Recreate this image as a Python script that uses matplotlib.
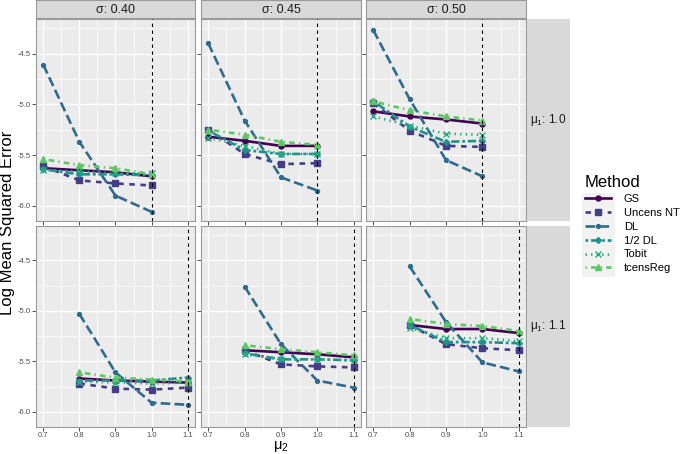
import numpy as np
import matplotlib
matplotlib.use("Agg")
import matplotlib.pyplot as plt
from matplotlib.lines import Line2D
from matplotlib.patches import Rectangle

plt.rcParams['font.family'] = ['Liberation Sans', 'DejaVu Sans']
plt.rcParams['mathtext.fontset'] = 'custom'
plt.rcParams['mathtext.rm'] = 'Liberation Sans'
plt.rcParams['lines.scale_dashes'] = False
plt.rcParams['axes.unicode_minus'] = False

# facets
sigmas = ['0.40', '0.45', '0.50']
mu1s = ['1.0', '1.1']
mu2_rows = [[0.7, 0.8, 0.9, 1.0], [0.8, 0.9, 1.0, 1.1]]
x_ticks = [0.7, 0.8, 0.9, 1.0, 1.1]
y_ticks = [-6.0, -5.5, -5.0, -4.5]

# log MSE per panel: row mu1=1.0 (sigma .40,.45,.50), then row mu1=1.1
gs = [[-5.63, -5.65, -5.67, -5.71], [-5.32, -5.36, -5.41, -5.41], [-5.07, -5.12, -5.15, -5.19],
      [-5.67, -5.69, -5.70, -5.71], [-5.39, -5.41, -5.43, -5.46], [-5.14, -5.18, -5.18, -5.22]]
uncens_nt = [[-5.61, -5.75, -5.78, -5.80], [-5.25, -5.49, -5.59, -5.58], [-4.99, -5.26, -5.41, -5.42],
             [-5.72, -5.77, -5.78, -5.76], [-5.39, -5.53, -5.55, -5.56], [-5.14, -5.33, -5.37, -5.39]]
dl = [[-4.61, -5.37, -5.90, -6.06], [-4.40, -5.16, -5.72, -5.85], [-4.27, -4.95, -5.55, -5.71],
      [-5.03, -5.61, -5.91, -5.93], [-4.76, -5.33, -5.69, -5.76], [-4.56, -5.11, -5.51, -5.60]]
half_dl = [[-5.64, -5.69, -5.69, -5.70], [-5.26, -5.45, -5.49, -5.49], [-4.97, -5.22, -5.37, -5.36],
           [-5.69, -5.69, -5.69, -5.66], [-5.42, -5.48, -5.48, -5.49], [-5.14, -5.31, -5.31, -5.32]]
tobit = [[-5.65, -5.66, -5.68, -5.68], [-5.33, -5.41, -5.49, -5.49], [-5.12, -5.21, -5.29, -5.30],
         [-5.70, -5.71, -5.72, -5.71], [-5.43, -5.48, -5.48, -5.49], [-5.17, -5.27, -5.27, -5.30]]
tcensreg = [[-5.54, -5.60, -5.63, -5.69], [-5.25, -5.30, -5.37, -5.40], [-4.97, -5.06, -5.12, -5.16],
            [-5.61, -5.66, -5.68, -5.70], [-5.34, -5.38, -5.41, -5.44], [-5.08, -5.13, -5.15, -5.20]]

methods = ['GS', 'Uncens NT', 'DL', '1/2 DL', 'Tobit', 'tcensReg']
values = [gs, uncens_nt, dl, half_dl, tobit, tcensreg]
colors = ['#440154', '#433E85', '#2F6B8E', '#21908D', '#25AC82', '#5DC863']
dashes = [None, (4, 4), (7, 3), (2, 2, 6, 2), (1, 3), (1, 3, 4, 3)]
markers = ['o', 's', 'o', 'D', 'x', '^']
msizes = [3.6, 4.3, 2.8, 3.0, 4.2, 4.8]

W, H = 685, 454
fig = plt.figure(figsize=(W / 100, H / 100), dpi=100)

col_x = [(36, 195), (201, 361), (366, 526)]
row_y = [(19, 221), (226, 427)]
strip_col = '#D9D9D9'
tick_col = '#4D4D4D'


def fx(px):
    return px / W


def fy(py):
    return 1 - py / H


for r in range(2):
    for c in range(3):
        x0, x1 = col_x[c]
        y0, y1 = row_y[r]
        ax = fig.add_axes([fx(x0), fy(y1), fx(x1 - x0), (y1 - y0) / H])
        ax.set_facecolor('#EBEBEB')
        ax.set_xlim(0.68, 1.12)
        ax.set_ylim(-6.15, -4.16)
        ax.set_xticks(x_ticks)
        ax.set_xticks([0.75, 0.85, 0.95, 1.05], minor=True)
        ax.set_yticks(y_ticks)
        ax.set_yticks([-5.75, -5.25, -4.75, -4.25], minor=True)
        ax.grid(which='major', color='white', lw=1.0)
        ax.grid(which='minor', color='white', lw=0.5)
        ax.set_axisbelow(True)
        for s in ax.spines.values():
            s.set_color('#9A9A9A')
            s.set_linewidth(0.8)
        ax.tick_params(which='major', length=2.8, width=0.6, color='#333333',
                       labelsize=5.5, labelcolor=tick_col, pad=1.0)
        ax.tick_params(axis='x', which='major', pad=0.6)
        ax.tick_params(which='minor', length=0)
        ax.set_xticklabels([f'{t:.1f}' for t in x_ticks])
        ax.set_yticklabels([f'{t:.1f}' for t in y_ticks])
        if r == 0:
            ax.tick_params(axis='x', labelbottom=False)
        if c > 0:
            ax.tick_params(axis='y', labelleft=False)

        k = r * 3 + c
        xs = mu2_rows[r]
        for m in range(len(methods)):
            ln, = ax.plot(xs, values[m][k], color=colors[m], lw=1.9,
                          marker=markers[m], ms=msizes[m], mew=1.0,
                          solid_capstyle='butt', dash_capstyle='butt')
            if dashes[m] is not None:
                ln.set_dashes(dashes[m])
        ax.axvline(float(mu1s[r]), color='black', lw=0.8, dashes=(2.5, 2.5), zorder=5)

        # top strips
        if r == 0:
            sx = fig.add_axes([fx(x0), fy(18), fx(x1 - x0), 18 / H])
            sx.set_facecolor(strip_col)
            sx.set_xticks([])
            sx.set_yticks([])
            for s in sx.spines.values():
                s.set_color('#9A9A9A')
                s.set_linewidth(0.8)
            sx.text(0.5, 0.45, 'σ: ' + sigmas[c], ha='center', va='center',
                    fontsize=9, color='#1A1A1A', transform=sx.transAxes)
    # right strips
    y0, y1 = row_y[r]
    rs = fig.add_axes([fx(527), fy(y1), fx(43), (y1 - y0) / H])
    rs.set_facecolor(strip_col)
    rs.set_xticks([])
    rs.set_yticks([])
    for s in rs.spines.values():
        s.set_visible(False)
    rs.text(0.5, 0.5, r'μ$_1$: ' + mu1s[r], ha='center', va='center',
            fontsize=8.5, color='#1A1A1A', transform=rs.transAxes)

fig.text(fx(8), fy(223), 'Log Mean Squared Error', rotation=90,
         ha='center', va='center', fontsize=12)
fig.text(fx(281), fy(453.8), r'μ$_2$', ha='center', va='bottom', fontsize=10.5)

# legend
fig.patches.append(Rectangle((fx(582), fy(277)), fx(33), (277 - 193) / H,
                             transform=fig.transFigure, facecolor='#F2F2F2',
                             edgecolor='none', zorder=0))
handles = []
for m in range(len(methods)):
    h = Line2D([], [], color=colors[m], lw=1.9, marker=markers[m],
               ms=msizes[m], mew=1.0)
    if dashes[m] is not None:
        h.set_dashes(dashes[m])
    handles.append(h)
leg = fig.legend(handles, methods, loc='upper left',
                 bbox_to_anchor=(fx(575), fy(165)), frameon=False,
                 title='Method', fontsize=8, title_fontsize=12,
                 handlelength=2.3, handletextpad=1.2, labelspacing=0.35)
leg._legend_box.align = 'left'

fig.savefig('out.png', dpi=100)
